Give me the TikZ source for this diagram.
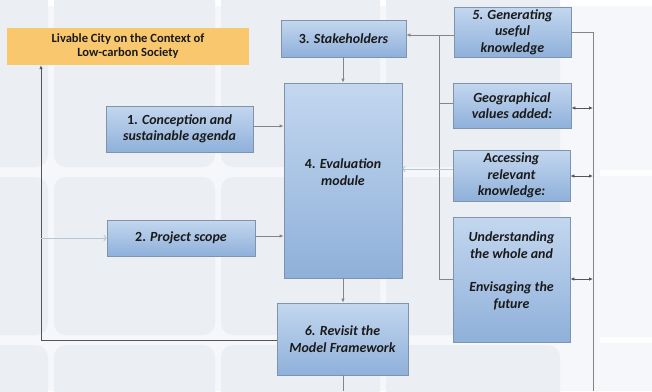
\documentclass[tikz,border=0pt]{standalone}
\usepackage{fontspec}
\setmainfont{Carlito}
\usetikzlibrary{arrows.meta}
\definecolor{bgc}{HTML}{F5F7FA}
\definecolor{tilec}{HTML}{EBEFF4}
\definecolor{boxtop}{HTML}{C3D7EF}
\definecolor{boxbot}{HTML}{8FB0DA}
\definecolor{boxdraw}{HTML}{7F93AD}
\definecolor{orangec}{HTML}{F9C86E}
\definecolor{linec}{HTML}{858585}
\definecolor{darkline}{HTML}{555555}
\definecolor{lightline}{HTML}{B5C5D2}
\definecolor{txtc}{HTML}{1A1A1A}
\tikzset{
  bluebox/.style={draw=boxdraw, line width=0.8bp, top color=boxtop, bottom color=boxbot,
    inner sep=0pt, align=center, text=txtc,
    font=\fontsize{14}{16.5}\selectfont\bfseries\itshape},
  boxtext/.style={align=center, text=txtc, inner sep=0pt,
    font=\fontsize{14}{16.5}\selectfont\bfseries\itshape},
  goalbox/.style={fill=orangec, inner sep=0pt, align=center, text=txtc,
    font=\fontsize{12.6}{14}\selectfont\bfseries},
  conn/.style={draw=linec, line width=0.9bp},
  arr/.style={conn, -{Latex[length=4bp,width=3.5bp]}},
  darr/.style={draw=darkline, line width=0.8bp, {Latex[length=4bp,width=3.5bp]}-{Latex[length=4bp,width=3.5bp]}},
  lightarr/.style={draw=lightline, line width=0.9bp, -{To[length=3bp,width=6bp]}},
  tile/.style={fill=tilec, rounded corners=12bp, draw=none}
}
\begin{document}
\begin{tikzpicture}[x=1bp,y=-1bp]
\useasboundingbox (0,0) rectangle (652,391);
% background
\fill[bgc] (0,0) rectangle (652,391);
\fill[white] (0,0) rectangle (652,6);
\foreach \xa/\xb in {-20/48,54/215,221/380,386/560}{
  \foreach \ya/\yb in {-20/167,177/335,345/420}{
    \path[tile] (\xa,\ya) rectangle (\xb,\yb);
  }
}
\fill[white!70!bgc] (600,170) rectangle (652,176);
\fill[white!70!bgc] (600,337) rectangle (652,343);

% nodes
\node[goalbox, minimum width=242bp, minimum height=37bp] (goal) at (128,46.5)
  {Livable City on the Context of\\Low-carbon Society};
\node[bluebox, minimum width=125bp, minimum height=37bp] (s3) at (343.5,38.5)
  {{\upshape 3.} Stakeholders};
\node[bluebox, minimum width=117bp, minimum height=50bp] (s5) at (512.5,32)
  {5. Generating\\useful\\knowledge};
\node[bluebox, minimum width=118bp, minimum height=45bp] (geo) at (512,105.5)
  {Geographical\\values added:};
\node[bluebox, minimum width=117bp, minimum height=51bp] (acc) at (511.5,175.5)
  {Accessing\\relevant\\knowledge:};
\node[bluebox, minimum width=117bp, minimum height=125bp] (und) at (511.5,279.5) {};
\node[boxtext] (undt) at ([yshift=8.5bp]und.center)
  {Understanding\\the whole and\\[17bp]Envisaging the\\future};
\node[bluebox, minimum width=118bp, minimum height=195bp] (s4) at (343,180.5) {};
\node[boxtext] (s4t) at ([yshift=8.5bp]s4.center) {{\upshape 4.} Evaluation\\module};
\node[bluebox, minimum width=147bp, minimum height=46bp] (s1) at (179.5,129)
  {{\upshape 1.} Conception and\\sustainable agenda};
\node[bluebox, minimum width=148bp, minimum height=36bp] (s2) at (181,238)
  {{\upshape 2.} Project scope};
\node[bluebox, minimum width=131bp, minimum height=72bp] (s6) at (342.5,339)
  {6. Revisit the\\Model Framework};

\coordinate (lb) at (41,340);
\coordinate (bus) at (439,35);
\coordinate (rbus) at (593,32);
\coordinate (bot) at (343,391);
\coordinate (rbot) at (593,391);

% connectors
\draw[arr] (s3.south -| 343,0) -- (s4.north -| 343,0);
\draw[arr] (s4.south -| 343,0) -- (s6.north -| 343,0);
\draw[conn] (s6.south -| 343,0) -- (bot);
\draw[arr] (s1.east |- 0,126) -- (s4.west |- 0,126);
\draw[arr] (s2.east |- 0,236) -- (s4.west |- 0,236);
\draw[arr, draw=darkline] (s6.west |- lb) -- (lb) -- (lb |- goal.south);
\draw[lightarr] (lb |- s2.west) -- (s2.west);
\draw[arr] (s5.west |- bus) -- (s3.east |- bus);
\draw[conn] (bus) -- (bus |- und.west) -- (und.west);
\draw[conn] (bus |- 0,103) -- (geo.west |- 0,103);
\draw[lightarr] (acc.west |- 0,169) -- (s4.east |- 0,169);
\draw[conn] (s5.east |- rbus) -- (rbus) -- (rbot);
\draw[darr] (geo.east |- 0,108) -- (rbus |- 0,108);
\draw[darr] (acc.east |- 0,176) -- (rbus |- 0,176);
\draw[darr] (und.east |- 0,279) -- (rbus |- 0,279);
\end{tikzpicture}
\end{document}
